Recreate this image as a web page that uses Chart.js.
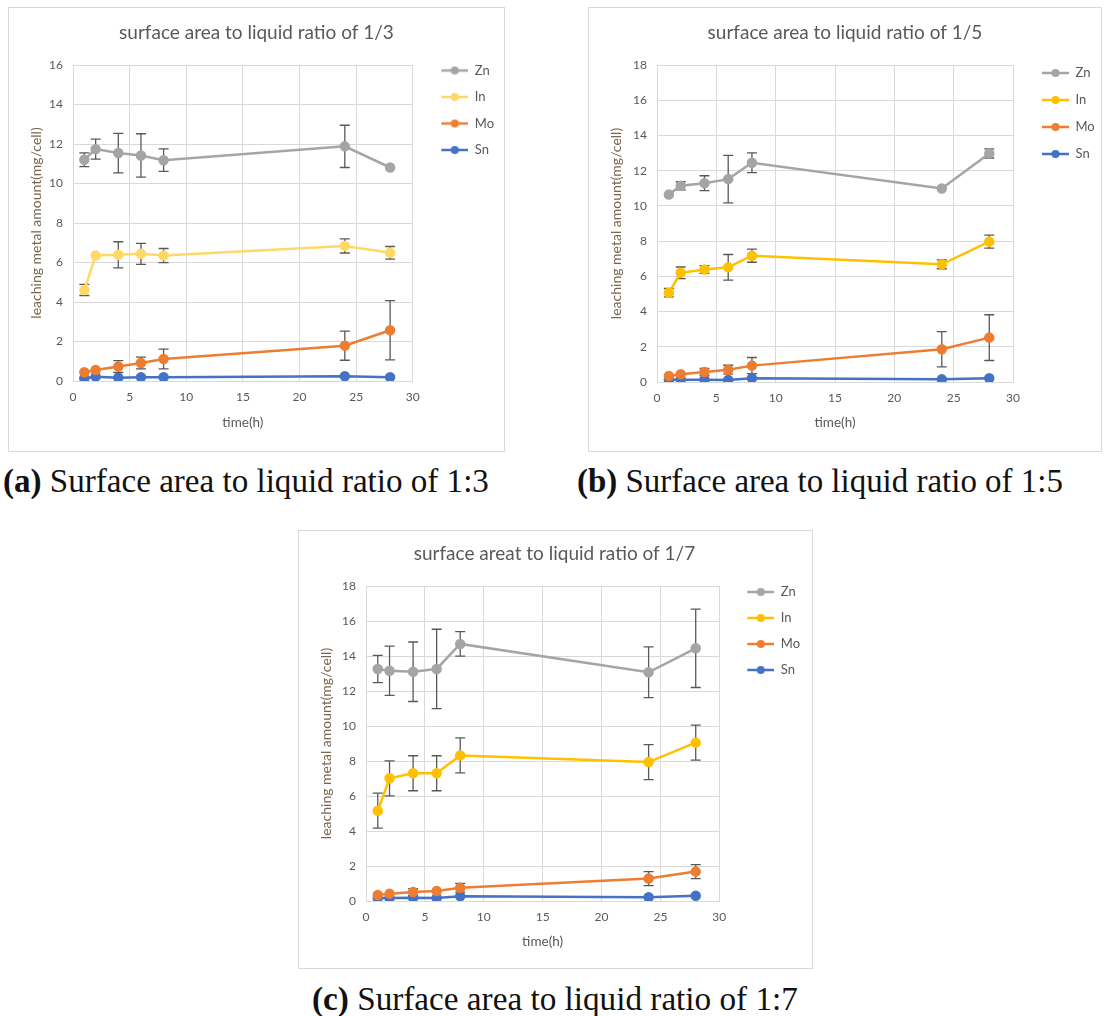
<!DOCTYPE html>
<html>
<head>
<meta charset="utf-8">
<script src="https://cdn.jsdelivr.net/npm/chart.js@4.4.1/dist/chart.umd.min.js"></script>
<style>
  body { margin: 0; background: #fff; width: 1113px; height: 1016px; position: relative; overflow: hidden; }
  .box { position: absolute; border: 1px solid #d9d9d9; box-sizing: border-box; background: #fff; }
  .cap { position: absolute; font-family: "Liberation Serif", serif; color: #111; white-space: nowrap; line-height: 1; }
</style>
</head>
<body>
<div class="box" id="boxA" style="left:8px;top:7px;width:497px;height:445px"><canvas id="chartA"></canvas></div>
<div class="box" id="boxB" style="left:588px;top:7px;width:514px;height:445px"><canvas id="chartB"></canvas></div>
<div class="box" id="boxC" style="left:298px;top:530px;width:515px;height:439px"><canvas id="chartC"></canvas></div>
<div class="cap" id="capA" style="left:3px;top:465px"><b>(a)</b> Surface area to liquid ratio of 1:3</div>
<div class="cap" id="capB" style="left:577px;top:465px"><b>(b)</b> Surface area to liquid ratio of 1:5</div>
<div class="cap" id="capC" style="left:312px;top:982px"><b>(c)</b> Surface area to liquid ratio of 1:7</div>
<script>
var hours = [1, 2, 4, 6, 8, 24, 28];
var metals = ['Zn', 'In', 'Mo', 'Sn'];

// ratio 1/3
var znA = [11.2, 11.74, 11.54, 11.42, 11.18, 11.88, 10.81];
var znErrA = [0.35, 0.51, 1.0, 1.1, 0.57, 1.07, 0];
var inA = [4.61, 6.35, 6.39, 6.44, 6.35, 6.84, 6.49];
var inErrA = [0.28, 0, 0.66, 0.53, 0.36, 0.36, 0.32];
var moA = [0.44, 0.56, 0.73, 0.91, 1.11, 1.79, 2.57];
var moErrA = [0, 0, 0.3, 0.3, 0.5, 0.74, 1.5];
var snA = [0.14, 0.22, 0.17, 0.19, 0.19, 0.24, 0.19];
var snErrA = [0, 0, 0, 0, 0, 0, 0];

// ratio 1/5
var znB = [10.64, 11.14, 11.29, 11.52, 12.45, 10.99, 12.98];
var znErrB = [0, 0.23, 0.42, 1.35, 0.56, 0, 0.26];
var inB = [5.07, 6.2, 6.39, 6.51, 7.17, 6.68, 7.97];
var inErrB = [0.24, 0.33, 0.22, 0.73, 0.37, 0.25, 0.37];
var moB = [0.34, 0.44, 0.57, 0.7, 0.93, 1.86, 2.52];
var moErrB = [0, 0, 0.2, 0.25, 0.46, 1.0, 1.3];
var snB = [0.13, 0.13, 0.13, 0.11, 0.21, 0.15, 0.21];
var snErrB = [0, 0, 0, 0, 0, 0, 0];

// ratio 1/7
var znC = [13.26, 13.16, 13.1, 13.26, 14.69, 13.07, 14.44];
var znErrC = [0.78, 1.41, 1.7, 2.27, 0.7, 1.45, 2.24];
var inC = [5.16, 7.01, 7.3, 7.3, 8.32, 7.94, 9.05];
var inErrC = [1.0, 1.0, 1.0, 1.0, 1.0, 1.0, 1.0];
var moC = [0.34, 0.42, 0.51, 0.57, 0.76, 1.28, 1.68];
var moErrC = [0, 0, 0.2, 0, 0.25, 0.4, 0.4];
var snC = [0.17, 0.17, 0.19, 0.17, 0.27, 0.21, 0.3];
var snErrC = [0, 0, 0, 0, 0, 0, 0];

var FONT = 'Lato';
var TEXT = '#595959';
var GRID = '#d9d9d9';

// legend sample: line with a dot, drawn a bit right of the box start
function legendMark(color) {
    var c = document.createElement('canvas');
    c.width = 42; c.height = 10;
    var g = c.getContext('2d');
    g.strokeStyle = color; g.lineWidth = 2.5;
    g.beginPath(); g.moveTo(15, 5); g.lineTo(42, 5); g.stroke();
    g.fillStyle = color;
    g.beginPath(); g.arc(28.5, 5, 4, 0, Math.PI * 2); g.fill();
    return c;
}

var errorBars = {
    id: 'errorBars',
    beforeDatasetsDraw: function (chart) {
        var ctx = chart.ctx, xs = chart.scales.x, ys = chart.scales.y;
        ctx.save();
        ctx.strokeStyle = '#595959';
        ctx.lineWidth = 1.3;
        chart.data.datasets.forEach(function (ds) {
            ds.data.forEach(function (p, i) {
                var e = ds.errors[i];
                if (!e) return;
                var x = xs.getPixelForValue(p.x);
                var y1 = ys.getPixelForValue(p.y + e);
                var y2 = ys.getPixelForValue(p.y - e);
                ctx.beginPath();
                ctx.moveTo(x, y1); ctx.lineTo(x, y2);
                ctx.moveTo(x - 5, y1); ctx.lineTo(x + 5, y1);
                ctx.moveTo(x - 5, y2); ctx.lineTo(x + 5, y2);
                ctx.stroke();
            });
        });
        ctx.restore();
    }
};

// lay: plot left, right padding, legend width, title paddings, legend offsets, x-axis height
function makeChart(id, title, yMax, series, errs, colors, lay) {
    var datasets = metals.map(function (m, k) {
        return {
            label: m,
            data: hours.map(function (h, i) { return {x: h, y: series[k][i]}; }),
            errors: errs[k],
            borderColor: colors[k],
            backgroundColor: colors[k],
            borderWidth: 2.5,
            pointRadius: 4,
            pointHoverRadius: 4,
            pointStyle: 'circle',
            tension: 0
        };
    });
    return new Chart(document.getElementById(id), {
        type: 'line',
        data: {datasets: datasets},
        plugins: [errorBars],
        options: {
            responsive: true,
            maintainAspectRatio: false,
            animation: false,
            layout: {padding: {left: 0, right: lay.padRight, top: 0, bottom: 0}},
            plugins: {
                title: {
                    display: true, text: title, color: TEXT,
                    font: {family: FONT, size: 19, weight: 'normal'},
                    padding: {top: lay.titleTop, bottom: lay.titleBottom}
                },
                legend: {
                    position: 'right', align: 'start', maxWidth: lay.legendWidth,
                    title: {display: true, text: '', font: {size: 10}, padding: lay.legendTop},
                    labels: {
                        usePointStyle: true, pointStyleWidth: 42, padding: lay.legendGap,
                        color: TEXT, font: {family: FONT, size: 13},
                        generateLabels: function (chart) {
                            return chart.data.datasets.map(function (ds, i) {
                                return {text: ds.label, pointStyle: legendMark(ds.borderColor), datasetIndex: i,
                                        fontColor: TEXT, lineWidth: 0, strokeStyle: 'transparent', fillStyle: ds.borderColor};
                            });
                        }
                    }
                },
                tooltip: {enabled: false}
            },
            scales: {
                x: {
                    type: 'linear', min: 0, max: 30,
                    ticks: {stepSize: 5, color: TEXT, font: {family: FONT, size: 12}, padding: 9},
                    grid: {color: GRID, drawTicks: false},
                    border: {color: GRID},
                    title: {display: true, text: 'time(h)', color: TEXT, font: {family: FONT, size: 13.5}, padding: {top: 0, bottom: lay.xTitleBottom}},
                    afterFit: function (s) { s.height = lay.xHeight; }
                },
                y: {
                    min: 0, max: yMax,
                    ticks: {stepSize: 2, color: TEXT, font: {family: FONT, size: 12}, padding: 10},
                    grid: {color: GRID, drawTicks: false},
                    border: {color: GRID},
                    title: {display: true, text: 'leaching metal amount(mg/cell)', color: '#7a6450', font: {family: FONT, size: 14}, padding: {top: 19.5, bottom: 0}},
                    afterFit: function (s) { s.width = lay.plotLeft; }
                }
            }
        }
    });
}

makeChart('chartA', 'surface area to liquid ratio of 1/3', 16,
    [znA, inA, moA, snA], [znErrA, inErrA, moErrA, snErrA],
    ['#A5A5A5', '#FFD966', '#ED7D31', '#4472C4'],
    {plotLeft: 64, padRight: 0, legendWidth: 92, titleTop: 13.6, titleBottom: 20.6,
     legendTop: 15.25, legendGap: 13.5, xHeight: 70, xTitleBottom: 20});
makeChart('chartB', 'surface area to liquid ratio of 1/5', 18,
    [znB, inB, moB, snB], [znErrB, inErrB, moErrB, snErrB],
    ['#A5A5A5', '#FFC000', '#ED7D31', '#4472C4'],
    {plotLeft: 68, padRight: 0, legendWidth: 88, titleTop: 13.6, titleBottom: 20.6,
     legendTop: 16.25, legendGap: 14, xHeight: 69, xTitleBottom: 20});
makeChart('chartC', 'surface areat to liquid ratio of 1/7', 18,
    [znC, inC, moC, snC], [znErrC, inErrC, moErrC, snErrC],
    ['#A5A5A5', '#FFC000', '#ED7D31', '#4472C4'],
    {plotLeft: 67, padRight: 2, legendWidth: 92, titleTop: 11.6, titleBottom: 20.6,
     legendTop: 14.75, legendGap: 13, xHeight: 67, xTitleBottom: 18});

// size captions so they span the same width as in the figure
['capA', 'capB', 'capC'].forEach(function (id) {
    var el = document.getElementById(id);
    el.style.fontSize = '30px';
    var w = el.getBoundingClientRect().width;
    el.style.fontSize = (30 * 486 / w).toFixed(2) + 'px';
});
</script>
</body>
</html>
